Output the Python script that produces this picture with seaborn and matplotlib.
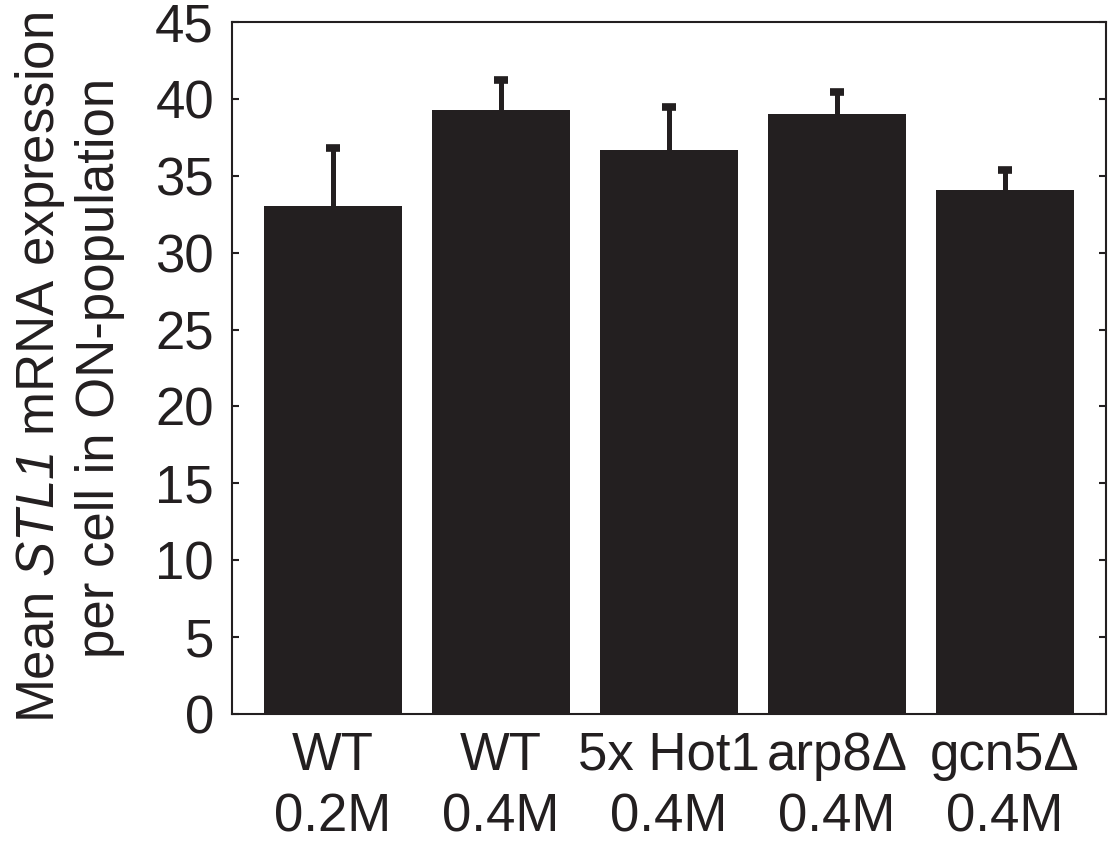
import matplotlib
matplotlib.use("Agg")
import matplotlib.pyplot as plt
import numpy as np
import seaborn as sns

# values
conditions = ["WT\n0.2M", "WT\n0.4M", "5x Hot1\n0.4M", "arp8\u0394\n0.4M", "gcn5\u0394\n0.4M"]
mean_expr = [33.0, 39.3, 36.7, 39.0, 34.1]
err_upper = [3.8, 1.9, 2.8, 1.45, 1.3]
y_ticks = [0, 5, 10, 15, 20, 25, 30, 35, 40, 45]

BAR = "#231f20"


def plot_bars():
    sns.set_style("white")
    plt.rcParams["font.family"] = ["Liberation Sans", "DejaVu Sans"]
    plt.rcParams["mathtext.fontset"] = "custom"
    plt.rcParams["mathtext.rm"] = "Liberation Sans"
    # mathit forces digits upright, so borrow \mathbf for the italic gene name
    plt.rcParams["mathtext.bf"] = "Liberation Sans:italic"

    fig = plt.figure(figsize=(11.17, 8.41), dpi=100)
    ax = fig.add_axes([0.2077, 0.151, 0.7823, 0.8229])

    sns.barplot(x=conditions, y=mean_expr, color=BAR, saturation=1,
                width=0.82, edgecolor=BAR, linewidth=0, ax=ax)

    x = np.arange(len(conditions))
    _, caps, _ = ax.errorbar(x, mean_expr, yerr=[np.zeros(len(x)), err_upper],
                             fmt="none", ecolor=BAR, elinewidth=3.6,
                             capsize=4.8, capthick=5.5, zorder=3)
    # only the upper cap is visible in the original
    caps[0].set_visible(False)

    ax.set_xlim(-0.6, len(conditions) - 0.4)
    ax.set_ylim(0, 45)
    ax.set_yticks(y_ticks)

    for side in ["top", "right", "left", "bottom"]:
        ax.spines[side].set_visible(True)
        ax.spines[side].set_color(BAR)
        ax.spines[side].set_linewidth(1.5)

    ax.tick_params(axis="y", direction="in", length=5, width=1.5,
                   left=True, right=True, labelsize=38, pad=13, colors=BAR)
    ax.tick_params(axis="x", length=0, labelsize=38, pad=12, colors=BAR)
    for lbl in ax.get_xticklabels():
        lbl.set_linespacing(1.3)

    ax.set_ylabel("Mean $\\mathbf{STL1}$ mRNA expression\nper cell in ON-population",
                  fontsize=38, color=BAR, linespacing=1.2, labelpad=22)

    fig.savefig("out.png", dpi=100)


if __name__ == "__main__":
    plot_bars()
